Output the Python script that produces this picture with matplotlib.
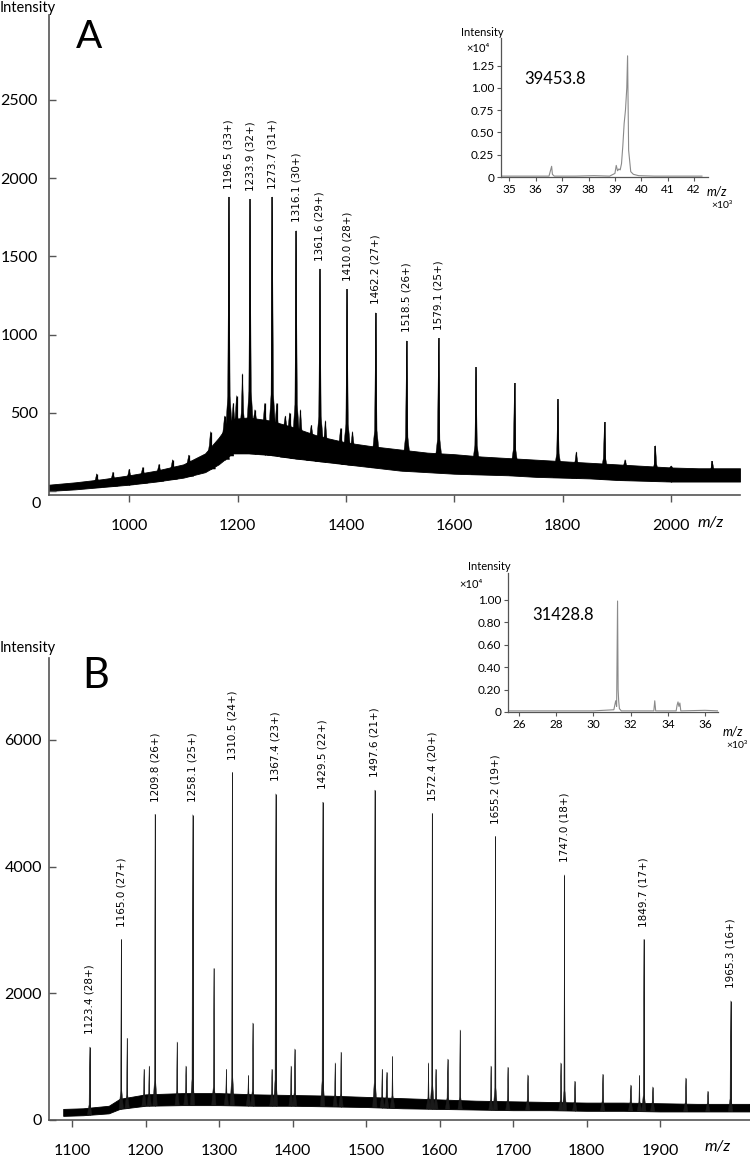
import numpy as np
import matplotlib
matplotlib.use('Agg')
import matplotlib.pyplot as plt

plt.rcParams['font.family'] = ['Lato', 'DejaVu Sans']

W, H = 750, 1166

# ---------------- panel A (main spectrum) ----------------
a_band_mz = [852, 900, 950, 1000, 1050, 1100, 1140, 1165, 1190, 1220, 1260, 1300, 1350, 1400,
             1450, 1500, 1550, 1600, 1650, 1700, 1750, 1800, 1850, 1900, 1950, 2000, 2050, 2127]
a_band_low = [0, 10, 25, 40, 60, 85, 120, 170, 240, 240, 230, 210, 190, 170,
              150, 130, 120, 110, 105, 100, 90, 85, 80, 70, 65, 60, 60, 60]
a_band_high = [40, 55, 75, 100, 130, 170, 240, 340, 460, 470, 450, 410, 350, 310,
               285, 265, 245, 235, 220, 210, 200, 190, 180, 170, 160, 150, 145, 145]

a_peak_mz = [1184, 1223, 1264, 1308, 1352, 1402, 1455, 1512, 1571, 1640, 1711, 1791, 1877, 1971, 2076]
a_peak_int = [1880, 1865, 1880, 1665, 1420, 1290, 1140, 960, 975, 790, 690, 585, 440, 290, 190]
a_peak_lab = ['1196.5 (33+)', '1233.9 (32+)', '1273.7 (31+)', '1316.1 (30+)', '1361.6 (29+)',
              '1410.0 (28+)', '1462.2 (27+)', '1518.5 (26+)', '1579.1 (25+)',
              '', '', '', '', '', '']
a_minor_mz = [940, 970, 1000, 1025, 1055, 1080, 1110, 1150, 1176, 1192, 1198, 1209, 1232, 1250,
              1272, 1288, 1296, 1316, 1336, 1362, 1390, 1412, 1825, 1915, 2000]
a_minor_int = [110, 120, 140, 150, 170, 200, 230, 380, 480, 560, 610, 750, 520, 560,
               560, 480, 500, 520, 420, 450, 400, 380, 250, 200, 160]

# inset A (deconvoluted)
ia_mz = [34.7, 35.5, 36.5, 36.6, 36.63, 36.7, 37.5, 38.2, 38.8, 39.0, 39.05, 39.1, 39.15, 39.2,
         39.25, 39.3, 39.35, 39.4, 39.45, 39.48, 39.52, 39.6, 39.7, 39.9, 40.5, 41.5, 42.3]
ia_int = [0.01, 0.01, 0.01, 0.12, 0.03, 0.01, 0.01, 0.015, 0.01, 0.04, 0.13, 0.07, 0.09, 0.08,
          0.15, 0.35, 0.6, 0.75, 1.0, 1.36, 0.3, 0.06, 0.03, 0.015, 0.01, 0.01, 0.01]

# ---------------- panel B (main spectrum) ----------------
b_band_mz = [1088, 1115, 1150, 1165, 1200, 1250, 1300, 1350, 1400, 1450, 1500, 1550, 1600,
             1650, 1700, 1750, 1800, 1850, 1900, 1950, 2000, 2022]
b_band_low = [60, 70, 100, 170, 220, 230, 230, 220, 220, 210, 200, 180, 170,
              160, 150, 150, 140, 140, 130, 130, 130, 130]
b_band_high = [170, 180, 220, 330, 400, 420, 420, 400, 390, 380, 360, 340, 320,
               300, 290, 280, 270, 270, 260, 250, 250, 250]

b_peak_mz = [1124, 1167, 1213, 1264, 1318, 1377, 1441, 1512, 1590, 1676, 1770, 1878, 1996]
b_peak_int = [1150, 2850, 4830, 4820, 5490, 5150, 5020, 5210, 4840, 4480, 3870, 2850, 1880]
b_peak_lab = ['1123.4 (28+)', '1165.0 (27+)', '1209.8 (26+)', '1258.1 (25+)', '1310.5 (24+)',
              '1367.4 (23+)', '1429.5 (22+)', '1497.6 (21+)', '1572.4 (20+)', '1655.2 (19+)',
              '1747.0 (18+)', '1849.7 (17+)', '1965.3 (16+)']
b_minor_mz = [1175, 1198, 1205, 1243, 1255, 1293, 1310, 1340, 1346, 1372, 1398, 1403, 1458,
              1466, 1522, 1528, 1536, 1585, 1595, 1611, 1628, 1670, 1693, 1720, 1765, 1784,
              1822, 1860, 1872, 1890, 1935, 1965]
b_minor_int = [1290, 800, 850, 1230, 850, 2390, 800, 700, 1530, 800, 850, 1120, 900,
               1070, 800, 750, 1000, 900, 800, 960, 1420, 850, 830, 710, 900, 610,
               720, 550, 700, 520, 660, 450]

# inset B (deconvoluted)
ib_mz = [25.5, 28, 30, 31.1, 31.2, 31.25, 31.3, 31.33, 31.36, 31.4, 31.5, 31.6, 33.25, 33.3,
         33.35, 34.45, 34.5, 34.55, 34.6, 34.65, 34.7, 36.0, 36.7]
ib_int = [0.01, 0.01, 0.01, 0.02, 0.1, 0.05, 0.99, 0.2, 0.1, 0.03, 0.01, 0.01, 0.01, 0.1,
          0.01, 0.01, 0.06, 0.09, 0.05, 0.08, 0.01, 0.015, 0.01]


def box(l, t, r, b):
    return [l / W, 1 - b / H, (r - l) / W, (b - t) / H]


def fx(x):
    return x / W


def fy(y):
    return 1 - y / H


AX_COL = '#555555'


def style_main(ax):
    for s in ['top', 'right']:
        ax.spines[s].set_visible(False)
    for s in ['left', 'bottom']:
        ax.spines[s].set_color(AX_COL)
        ax.spines[s].set_linewidth(1.2)
    ax.tick_params(axis='y', direction='in', length=5, width=1, color=AX_COL,
                   labelsize=11.5, pad=8)
    ax.tick_params(axis='x', direction='out', length=5, width=1, color=AX_COL,
                   labelsize=11.5, pad=12)


def style_inset(ax):
    for s in ['top', 'right']:
        ax.spines[s].set_visible(False)
    for s in ['left', 'bottom']:
        ax.spines[s].set_color(AX_COL)
        ax.spines[s].set_linewidth(0.9)
    ax.tick_params(direction='out', length=3, width=0.8, color=AX_COL, labelsize=8.5, pad=2)
    ax.patch.set_alpha(0)


def spectrum(ax, band_mz, band_lo, band_hi, pk_mz, pk_int, mn_mz, mn_int,
             half_w, skirt, lw, col):
    # noisy baseline drawn as a dark band
    ax.fill_between(band_mz, band_lo, band_hi, color='k', lw=0.6)
    # every peak: a thin spike with a short skirt sitting on the band
    for mz, inten, k in [(mn_mz, mn_int, 0.8), (pk_mz, pk_int, 1.0)]:
        for m, h in zip(mz, inten):
            lo = np.interp(m, band_mz, band_lo)
            hi = np.interp(m, band_mz, band_hi)
            s = hi + skirt * (h - hi)
            ax.fill([m - half_w, m - half_w / 4, m, m + half_w / 4, m + half_w],
                    [lo, s, h, s, lo], color=col, lw=0.3)
        ax.vlines(mz, np.interp(mz, band_mz, band_lo), inten, color=col, lw=lw * k)


fig = plt.figure(figsize=(7.5, 11.66), dpi=100)

# ---- A ----
axA = fig.add_axes(box(49, 15, 740, 495))
spectrum(axA, a_band_mz, a_band_low, a_band_high, a_peak_mz, a_peak_int,
         a_minor_mz, a_minor_int, 9, 0.12, 1.1, 'k')
for m, h, t in zip(a_peak_mz, a_peak_int, a_peak_lab):
    if t:
        axA.annotate(t, (m, h), xytext=(0, 6), textcoords='offset points', rotation=90,
                     ha='center', va='bottom', fontsize=7.5, family='DejaVu Sans')
axA.set_xlim(852, 2127)
axA.set_ylim(-26, 3043)
axA.set_xticks([1000, 1200, 1400, 1600, 1800, 2000])
axA.set_yticks([0, 500, 1000, 1500, 2000, 2500])
axA.set_yticklabels(['', '500', '1000', '1500', '2000', '2500'])
style_main(axA)
fig.text(fx(41), fy(504), '0', fontsize=11.5, ha='right', va='center')
fig.text(fx(0), fy(8), 'Intensity', fontsize=10.5, ha='left', va='center')
fig.text(fx(711), fy(523), 'm/z', fontsize=11.5, style='italic', ha='center', va='center')
fig.text(fx(89), fy(37), 'A', fontsize=28, ha='center', va='center')

iaA = fig.add_axes(box(501, 38, 708, 177))
iaA.plot(ia_mz, ia_int, color='#8a8a8a', lw=0.8)
iaA.set_xlim(34.68, 42.53)
iaA.set_ylim(0, 1.56)
iaA.set_xticks([35, 36, 37, 38, 39, 40, 41, 42])
iaA.set_yticks([0, 0.25, 0.5, 0.75, 1.0, 1.25])
iaA.set_yticklabels(['0', '0.25', '0.50', '0.75', '1.00', '1.25'])
style_inset(iaA)
fig.text(fx(504), fy(32), 'Intensity', fontsize=8, ha='right', va='center')
fig.text(fx(490), fy(48), '×10⁴', fontsize=8, ha='right', va='center')
fig.text(fx(717), fy(191), 'm/z', fontsize=9, style='italic', ha='center', va='center')
fig.text(fx(722), fy(205), '×10³', fontsize=7.5, ha='center', va='center')
fig.text(fx(555), fy(79), '39453.8', fontsize=12, ha='center', va='center')

# ---- B ----
axB = fig.add_axes(box(49, 658, 750, 1120))
spectrum(axB, b_band_mz, b_band_low, b_band_high, b_peak_mz, b_peak_int,
         b_minor_mz, b_minor_int, 3, 0.05, 0.7, '#1a1a1a')
for m, h, t in zip(b_peak_mz, b_peak_int, b_peak_lab):
    axB.annotate(t, (m, h), xytext=(0, 9), textcoords='offset points', rotation=90,
                 ha='center', va='bottom', fontsize=7.5, family='DejaVu Sans')
axB.set_xlim(1068.7, 2022.4)
axB.set_ylim(-5, 7295)
axB.set_xticks([1100, 1200, 1300, 1400, 1500, 1600, 1700, 1800, 1900])
axB.set_yticks([0, 2000, 4000, 6000])
style_main(axB)
axB.tick_params(axis='y', pad=5)
fig.text(fx(0), fy(648), 'Intensity', fontsize=10.5, ha='left', va='center')
fig.text(fx(718), fy(1147), 'm/z', fontsize=11.5, style='italic', ha='center', va='center')
fig.text(fx(96), fy(676), 'B', fontsize=30, ha='center', va='center')

iaB = fig.add_axes(box(508, 573, 718, 712))
iaB.plot(ib_mz, ib_int, color='#8a8a8a', lw=0.8)
iaB.set_xlim(25.41, 36.7)
iaB.set_ylim(0, 1.24)
iaB.set_xticks([26, 28, 30, 32, 34, 36])
iaB.set_yticks([0, 0.2, 0.4, 0.6, 0.8, 1.0])
iaB.set_yticklabels(['0', '0.20', '0.40', '0.60', '0.80', '1.00'])
style_inset(iaB)
fig.text(fx(511), fy(567), 'Intensity', fontsize=8, ha='right', va='center')
fig.text(fx(483), fy(585), '×10⁴', fontsize=8, ha='right', va='center')
fig.text(fx(733), fy(732), 'm/z', fontsize=9, style='italic', ha='center', va='center')
fig.text(fx(748), fy(745), '×10³', fontsize=7.5, ha='right', va='center')
fig.text(fx(563), fy(615), '31428.8', fontsize=12, ha='center', va='center')

fig.savefig('out.png', dpi=100)
